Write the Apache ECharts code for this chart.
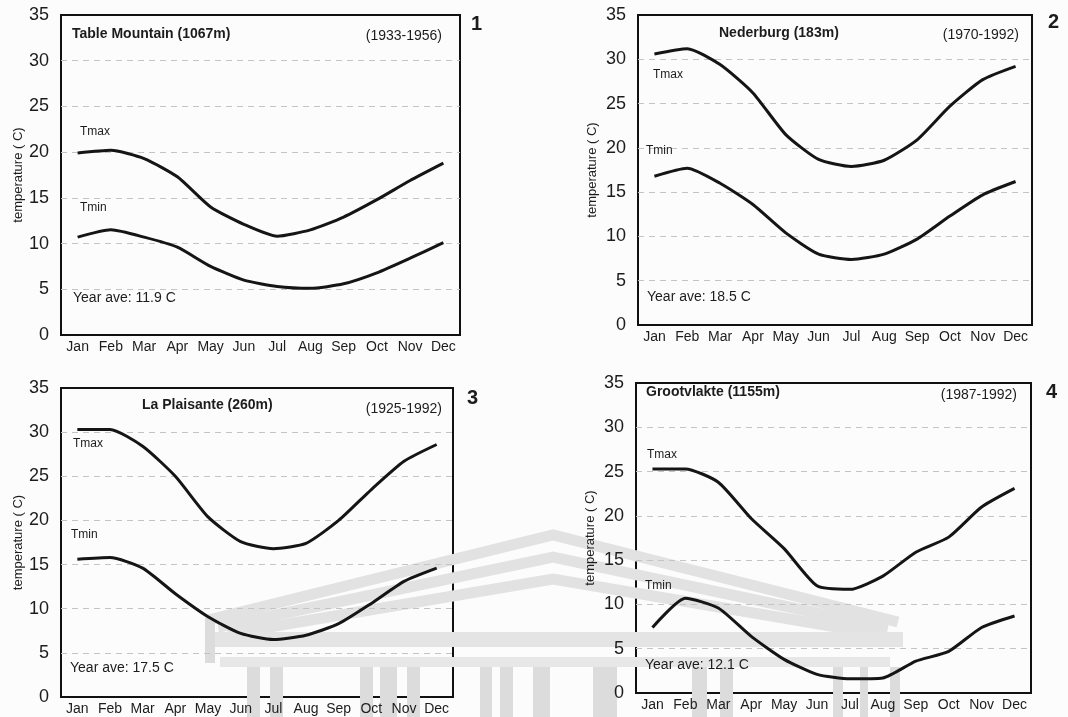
<!DOCTYPE html>
<html>
<head>
<meta charset="utf-8">
<script src="https://cdn.jsdelivr.net/npm/echarts@6/dist/echarts.min.js"></script>
<style>
  html, body { margin: 0; padding: 0; background: #fcfcfc; }
  #main { width: 1068px; height: 717px; }
</style>
</head>
<body>
<div id="main"></div>
<script>
// month labels
var months = ['Jan', 'Feb', 'Mar', 'Apr', 'May', 'Jun', 'Jul', 'Aug', 'Sep', 'Oct', 'Nov', 'Dec'];
var yTicks = [0, 5, 10, 15, 20, 25, 30, 35];

// 1 - Table Mountain
var tableMax = [19.9, 20.2, 19.3, 17.3, 14.0, 12.1, 10.8, 11.5, 12.9, 14.8, 16.9, 18.8];
var tableMin = [10.7, 11.5, 10.7, 9.6, 7.5, 6.0, 5.3, 5.1, 5.6, 6.8, 8.4, 10.1];
// 2 - Nederburg
var nederMax = [30.6, 31.2, 29.4, 26.2, 21.5, 18.7, 17.9, 18.6, 20.9, 24.7, 27.7, 29.2];
var nederMin = [16.8, 17.7, 16.0, 13.6, 10.4, 8.0, 7.4, 8.0, 9.7, 12.3, 14.7, 16.2];
// 3 - La Plaisante
var plaisMax = [30.3, 30.3, 28.4, 25.0, 20.4, 17.6, 16.8, 17.4, 20.0, 23.5, 26.7, 28.6];
var plaisMin = [15.6, 15.8, 14.6, 11.7, 9.1, 7.2, 6.5, 7.0, 8.3, 10.6, 13.1, 14.6];
// 4 - Grootvlakte
var grootMax = [25.3, 25.3, 23.8, 19.7, 16.3, 12.1, 11.7, 13.2, 15.9, 17.6, 21.0, 23.1];
var grootMin = [7.4, 10.7, 9.6, 6.4, 3.8, 2.1, 1.6, 1.7, 3.6, 4.7, 7.4, 8.7];

var chart = echarts.init(document.getElementById('main'));

var grids = [
  { left: 61, top: 15, width: 399, height: 320 },
  { left: 638, top: 15, width: 394, height: 310 },
  { left: 61, top: 388, width: 392, height: 309 },
  { left: 636, top: 383, width: 395, height: 310 }
];
var nameGaps = [36, 39, 36, 39];

var font = 'Liberation Sans, Arial, sans-serif';
var ink = '#1c1c1c';
// no dashed line on 0 and 35, the frame sits there
var splitColors = ['transparent', '#c4c4c4', '#c4c4c4', '#c4c4c4', '#c4c4c4', '#c4c4c4', '#c4c4c4', 'transparent'];

var gridOpts = [], xAxes = [], yAxes = [], series = [];
var lines = [[tableMax, tableMin], [nederMax, nederMin], [plaisMax, plaisMin], [grootMax, grootMin]];

for (var i = 0; i < 4; i++) {
  gridOpts.push({
    left: grids[i].left, top: grids[i].top,
    width: grids[i].width, height: grids[i].height,
    show: true, borderColor: '#111', borderWidth: 2,
    backgroundColor: 'transparent'
  });
  xAxes.push({
    type: 'category', gridIndex: i, data: months, boundaryGap: true,
    axisLine: { show: false }, axisTick: { show: false },
    axisLabel: { color: ink, fontSize: 14, fontFamily: font, margin: 5, interval: 0 },
    splitLine: { show: false }
  });
  yAxes.push({
    type: 'value', gridIndex: i, min: yTicks[0], max: yTicks[yTicks.length - 1], interval: 5,
    name: 'temperature ( C)', nameLocation: 'middle', nameGap: nameGaps[i], nameRotate: 90,
    nameTextStyle: { color: ink, fontSize: 13, fontFamily: font },
    axisLine: { show: false }, axisTick: { show: false },
    axisLabel: { color: ink, fontSize: 18, fontFamily: font, margin: 12 },
    splitLine: {
      show: true,
      lineStyle: { color: splitColors, type: [6, 5], width: 1 }
    }
  });
  for (var k = 0; k < 2; k++) {
    series.push({
      type: 'line', xAxisIndex: i, yAxisIndex: i,
      data: lines[i][k], smooth: 0.2, symbol: 'none',
      lineStyle: { color: '#151515', width: 3 }, z: 5
    });
  }
}

function txt(x, y, s, size, bold, align) {
  return {
    type: 'text', x: x, y: y,
    style: {
      text: s, fill: ink, fontSize: size, fontFamily: font,
      fontWeight: bold ? 'bold' : 'normal',
      textAlign: align || 'left', textVerticalAlign: 'middle'
    },
    z: 10
  };
}

// faint watermark of the scanned page (building outline)
var wm = '#e2e2e2';
function band(k) {
  return {
    type: 'polyline', z: 0, silent: true,
    shape: { points: [[208 + k * 10, 620 + k * 7], [553, 535 + k * 22], [898 - k * 10, 622 + k * 6]] },
    style: { stroke: wm, lineWidth: 11, fill: null }
  };
}
var colX = [205, 247, 270, 360, 380, 407, 480, 500, 533, 593, 692, 720, 833, 860, 890];
var colW = [10, 13, 13, 13, 17, 13, 12, 13, 17, 24, 15, 13, 10, 8, 10];
var watermark = [band(0), band(1), band(2), {
  type: 'rect', z: 0, silent: true,
  shape: { x: 205, y: 632, width: 698, height: 15 },
  style: { fill: '#e4e4e4' }
}, {
  type: 'rect', z: 0, silent: true,
  shape: { x: 220, y: 657, width: 670, height: 10 },
  style: { fill: '#e7e7e7' }
}];
for (var c = 0; c < colX.length; c++) {
  watermark.push({
    type: 'rect', z: 0, silent: true,
    shape: { x: colX[c], y: c === 0 ? 618 : 667, width: colW[c], height: c === 0 ? 45 : 50 },
    style: { fill: '#dcdcdc' }
  });
}

var graphics = watermark.concat([
  // panel 1
  txt(72, 34, 'Table Mountain (1067m)', 14, true),
  txt(442, 36, '(1933-1956)', 14, false, 'right'),
  txt(80, 132, 'Tmax', 12, false),
  txt(80, 208, 'Tmin', 12, false),
  txt(73, 298, 'Year ave: 11.9 C', 14, false),
  txt(471, 24, '1', 20, true),
  // panel 2
  txt(719, 33, 'Nederburg (183m)', 14, true),
  txt(1019, 35, '(1970-1992)', 14, false, 'right'),
  txt(653, 75, 'Tmax', 12, false),
  txt(646, 151, 'Tmin', 12, false),
  txt(647, 297, 'Year ave: 18.5 C', 14, false),
  txt(1048, 22, '2', 20, true),
  // panel 3
  txt(142, 405, 'La Plaisante (260m)', 14, true),
  txt(442, 409, '(1925-1992)', 14, false, 'right'),
  txt(73, 444, 'Tmax', 12, false),
  txt(71, 535, 'Tmin', 12, false),
  txt(70, 668, 'Year ave: 17.5 C', 14, false),
  txt(467, 398, '3', 20, true),
  // panel 4
  txt(646, 392, 'Grootvlakte (1155m)', 14, true),
  txt(1017, 395, '(1987-1992)', 14, false, 'right'),
  txt(647, 455, 'Tmax', 12, false),
  txt(645, 586, 'Tmin', 12, false),
  txt(645, 665, 'Year ave: 12.1 C', 14, false),
  txt(1046, 392, '4', 20, true)
]);

chart.setOption({
  backgroundColor: '#fcfcfc',
  animation: false,
  grid: gridOpts,
  xAxis: xAxes,
  yAxis: yAxes,
  series: series,
  graphic: graphics
});
</script>
</body>
</html>
